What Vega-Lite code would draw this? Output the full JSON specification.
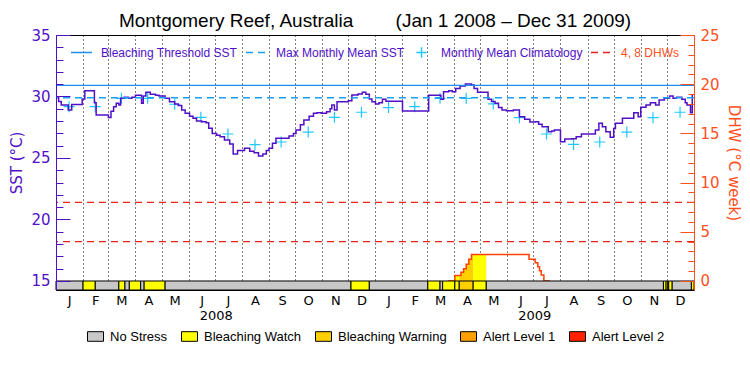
{
  "$schema": "https://vega.github.io/schema/vega-lite/v6.json",
  "width": 638,
  "height": 255,
  "autosize": {"type": "none"},
  "padding": {"left": 56, "top": 35, "right": 56, "bottom": 85},
  "background": "white",
  "title": {
    "text": "Montgomery Reef, Australia\u00a0\u00a0\u00a0\u00a0\u00a0\u00a0\u00a0\u00a0(Jan 1 2008 \u2013 Dec 31 2009)",
    "font": "Liberation Sans",
    "fontSize": 19,
    "fontWeight": "normal",
    "color": "black",
    "anchor": "middle",
    "offset": 2,
    "dy": 5
  },
  "config": {
    "view": {"stroke": "black", "strokeWidth": 1},
    "axis": {"grid": false, "labelFont": "DejaVu Sans", "titleFont": "DejaVu Sans", "titleFontWeight": "normal"},
    "legend": {"gridAlign": "none"}
  },
  "datasets": {
    "sst": [
      {"date": "2008-01-01", "sst": 29.95}, {"date": "2008-01-04", "sst": 29.6}, {"date": "2008-01-07", "sst": 29.3},
      {"date": "2008-01-15", "sst": 28.9}, {"date": "2008-01-19", "sst": 29.35}, {"date": "2008-01-31", "sst": 29.8},
      {"date": "2008-02-03", "sst": 30.47}, {"date": "2008-02-14", "sst": 29.5}, {"date": "2008-02-16", "sst": 28.5},
      {"date": "2008-03-01", "sst": 28.3}, {"date": "2008-03-04", "sst": 28.8}, {"date": "2008-03-07", "sst": 29.17},
      {"date": "2008-03-10", "sst": 29.45}, {"date": "2008-03-13", "sst": 29.31}, {"date": "2008-03-15", "sst": 29.85},
      {"date": "2008-03-19", "sst": 29.93}, {"date": "2008-03-24", "sst": 29.85}, {"date": "2008-03-28", "sst": 29.93},
      {"date": "2008-04-01", "sst": 30.1}, {"date": "2008-04-08", "sst": 29.45}, {"date": "2008-04-10", "sst": 30.04},
      {"date": "2008-04-13", "sst": 30.34}, {"date": "2008-04-18", "sst": 30.18}, {"date": "2008-04-24", "sst": 30.1},
      {"date": "2008-04-28", "sst": 30.04}, {"date": "2008-05-05", "sst": 29.85}, {"date": "2008-05-10", "sst": 29.58},
      {"date": "2008-05-16", "sst": 29.4}, {"date": "2008-05-20", "sst": 29.26}, {"date": "2008-05-24", "sst": 28.9},
      {"date": "2008-05-28", "sst": 28.63}, {"date": "2008-06-02", "sst": 28.4}, {"date": "2008-06-06", "sst": 28.23},
      {"date": "2008-06-10", "sst": 28.0}, {"date": "2008-06-16", "sst": 27.95}, {"date": "2008-06-21", "sst": 27.87},
      {"date": "2008-06-24", "sst": 27.41}, {"date": "2008-06-28", "sst": 27.0}, {"date": "2008-07-03", "sst": 26.85},
      {"date": "2008-07-07", "sst": 26.73}, {"date": "2008-07-12", "sst": 26.46}, {"date": "2008-07-18", "sst": 26.14},
      {"date": "2008-07-22", "sst": 25.33}, {"date": "2008-07-27", "sst": 25.6}, {"date": "2008-08-04", "sst": 25.79},
      {"date": "2008-08-10", "sst": 25.55}, {"date": "2008-08-15", "sst": 25.43}, {"date": "2008-08-20", "sst": 25.16},
      {"date": "2008-08-25", "sst": 25.33}, {"date": "2008-08-29", "sst": 25.6}, {"date": "2008-09-01", "sst": 25.79},
      {"date": "2008-09-05", "sst": 26.2}, {"date": "2008-09-09", "sst": 26.6}, {"date": "2008-09-24", "sst": 26.79},
      {"date": "2008-09-29", "sst": 27.0}, {"date": "2008-10-02", "sst": 27.28}, {"date": "2008-10-07", "sst": 27.7},
      {"date": "2008-10-11", "sst": 28.09}, {"date": "2008-10-17", "sst": 28.4}, {"date": "2008-10-22", "sst": 28.63},
      {"date": "2008-10-26", "sst": 28.68}, {"date": "2008-10-31", "sst": 28.63}, {"date": "2008-11-06", "sst": 28.77},
      {"date": "2008-11-10", "sst": 29.0}, {"date": "2008-11-12", "sst": 29.31}, {"date": "2008-11-15", "sst": 28.9},
      {"date": "2008-11-18", "sst": 29.58}, {"date": "2008-12-01", "sst": 29.66}, {"date": "2008-12-05", "sst": 30.12},
      {"date": "2008-12-12", "sst": 30.2}, {"date": "2008-12-17", "sst": 30.34}, {"date": "2008-12-21", "sst": 30.18},
      {"date": "2008-12-25", "sst": 29.8}, {"date": "2008-12-28", "sst": 29.58}, {"date": "2009-01-01", "sst": 29.39},
      {"date": "2009-01-05", "sst": 29.5}, {"date": "2009-01-09", "sst": 29.77}, {"date": "2009-01-13", "sst": 29.61},
      {"date": "2009-02-01", "sst": 28.82}, {"date": "2009-03-03", "sst": 30.1}, {"date": "2009-03-17", "sst": 29.77},
      {"date": "2009-03-20", "sst": 30.39}, {"date": "2009-03-26", "sst": 30.47}, {"date": "2009-03-30", "sst": 30.39},
      {"date": "2009-04-03", "sst": 30.66}, {"date": "2009-04-08", "sst": 30.85}, {"date": "2009-04-14", "sst": 31.02},
      {"date": "2009-04-21", "sst": 30.93}, {"date": "2009-04-24", "sst": 30.66}, {"date": "2009-04-28", "sst": 30.34},
      {"date": "2009-05-10", "sst": 29.77}, {"date": "2009-05-14", "sst": 29.6}, {"date": "2009-05-18", "sst": 29.45},
      {"date": "2009-05-22", "sst": 29.1}, {"date": "2009-05-26", "sst": 28.9}, {"date": "2009-05-31", "sst": 28.85},
      {"date": "2009-06-08", "sst": 28.9}, {"date": "2009-06-15", "sst": 28.36}, {"date": "2009-06-21", "sst": 28.15},
      {"date": "2009-06-27", "sst": 27.93}, {"date": "2009-07-03", "sst": 27.95}, {"date": "2009-07-07", "sst": 27.75},
      {"date": "2009-07-11", "sst": 27.55}, {"date": "2009-07-18", "sst": 27.14}, {"date": "2009-07-22", "sst": 27.2},
      {"date": "2009-07-25", "sst": 27.28}, {"date": "2009-08-01", "sst": 26.33}, {"date": "2009-08-06", "sst": 26.54},
      {"date": "2009-08-14", "sst": 26.57}, {"date": "2009-08-19", "sst": 26.73}, {"date": "2009-08-25", "sst": 26.95},
      {"date": "2009-09-10", "sst": 27.28}, {"date": "2009-09-14", "sst": 27.82}, {"date": "2009-09-18", "sst": 27.55},
      {"date": "2009-09-22", "sst": 27.14}, {"date": "2009-09-27", "sst": 26.68}, {"date": "2009-10-01", "sst": 27.4},
      {"date": "2009-10-03", "sst": 27.82}, {"date": "2009-10-11", "sst": 28.23}, {"date": "2009-10-24", "sst": 28.68},
      {"date": "2009-10-29", "sst": 28.36}, {"date": "2009-11-01", "sst": 29.12}, {"date": "2009-11-07", "sst": 29.31},
      {"date": "2009-11-12", "sst": 29.5}, {"date": "2009-11-18", "sst": 29.31}, {"date": "2009-11-22", "sst": 29.72},
      {"date": "2009-11-28", "sst": 29.85}, {"date": "2009-12-04", "sst": 30.04}, {"date": "2009-12-08", "sst": 29.85},
      {"date": "2009-12-12", "sst": 29.93}, {"date": "2009-12-18", "sst": 29.77}, {"date": "2009-12-22", "sst": 29.5},
      {"date": "2009-12-24", "sst": 29.31}, {"date": "2009-12-28", "sst": 28.68}, {"date": "2009-12-30", "sst": 30.12},
      {"date": "2009-12-31", "sst": 30.12}
    ],
    "clim": [
      {"date": "2008-01-16", "sst": 29.17, "series": "Monthly Mean Climatology"},
      {"date": "2008-02-15", "sst": 29.17, "series": "Monthly Mean Climatology"},
      {"date": "2008-03-16", "sst": 29.85, "series": "Monthly Mean Climatology"},
      {"date": "2008-04-15", "sst": 29.85, "series": "Monthly Mean Climatology"},
      {"date": "2008-05-16", "sst": 29.37, "series": "Monthly Mean Climatology"},
      {"date": "2008-06-15", "sst": 28.31, "series": "Monthly Mean Climatology"},
      {"date": "2008-07-16", "sst": 26.95, "series": "Monthly Mean Climatology"},
      {"date": "2008-08-16", "sst": 26.08, "series": "Monthly Mean Climatology"},
      {"date": "2008-09-15", "sst": 26.3, "series": "Monthly Mean Climatology"},
      {"date": "2008-10-16", "sst": 27.11, "series": "Monthly Mean Climatology"},
      {"date": "2008-11-15", "sst": 28.31, "series": "Monthly Mean Climatology"},
      {"date": "2008-12-16", "sst": 28.72, "series": "Monthly Mean Climatology"},
      {"date": "2009-01-16", "sst": 29.1, "series": "Monthly Mean Climatology"},
      {"date": "2009-02-15", "sst": 29.17, "series": "Monthly Mean Climatology"},
      {"date": "2009-03-16", "sst": 29.85, "series": "Monthly Mean Climatology"},
      {"date": "2009-04-15", "sst": 29.85, "series": "Monthly Mean Climatology"},
      {"date": "2009-05-16", "sst": 29.4, "series": "Monthly Mean Climatology"},
      {"date": "2009-06-15", "sst": 28.28, "series": "Monthly Mean Climatology"},
      {"date": "2009-07-16", "sst": 26.95, "series": "Monthly Mean Climatology"},
      {"date": "2009-08-16", "sst": 26.1, "series": "Monthly Mean Climatology"},
      {"date": "2009-09-15", "sst": 26.3, "series": "Monthly Mean Climatology"},
      {"date": "2009-10-16", "sst": 27.11, "series": "Monthly Mean Climatology"},
      {"date": "2009-11-15", "sst": 28.28, "series": "Monthly Mean Climatology"},
      {"date": "2009-12-16", "sst": 28.72, "series": "Monthly Mean Climatology"}
    ],
    "stress": [
      {"start": "2008-01-01", "end": "2008-02-01", "level": "No Stress"},
      {"start": "2008-02-01", "end": "2008-02-15", "level": "Bleaching Watch"},
      {"start": "2008-02-15", "end": "2008-03-13", "level": "No Stress"},
      {"start": "2008-03-13", "end": "2008-03-20", "level": "Bleaching Watch"},
      {"start": "2008-03-20", "end": "2008-03-25", "level": "No Stress"},
      {"start": "2008-03-25", "end": "2008-04-07", "level": "Bleaching Watch"},
      {"start": "2008-04-07", "end": "2008-04-11", "level": "No Stress"},
      {"start": "2008-04-11", "end": "2008-05-05", "level": "Bleaching Watch"},
      {"start": "2008-05-05", "end": "2008-12-04", "level": "No Stress"},
      {"start": "2008-12-04", "end": "2008-12-25", "level": "Bleaching Watch"},
      {"start": "2008-12-25", "end": "2009-03-02", "level": "No Stress"},
      {"start": "2009-03-02", "end": "2009-03-16", "level": "Bleaching Watch"},
      {"start": "2009-03-16", "end": "2009-03-19", "level": "No Stress"},
      {"start": "2009-03-19", "end": "2009-04-02", "level": "Bleaching Watch"},
      {"start": "2009-04-02", "end": "2009-04-07", "level": "Bleaching Watch"},
      {"start": "2009-04-07", "end": "2009-04-23", "level": "Bleaching Warning"},
      {"start": "2009-04-23", "end": "2009-05-08", "level": "Bleaching Watch"},
      {"start": "2009-05-08", "end": "2009-11-27", "level": "No Stress"},
      {"start": "2009-11-27", "end": "2009-11-30", "level": "Bleaching Watch"},
      {"start": "2009-11-30", "end": "2009-12-02", "level": "Bleaching Watch"},
      {"start": "2009-12-02", "end": "2009-12-03", "level": "No Stress"},
      {"start": "2009-12-03", "end": "2009-12-07", "level": "Bleaching Watch"},
      {"start": "2009-12-07", "end": "2009-12-29", "level": "No Stress"},
      {"start": "2009-12-29", "end": "2010-01-01", "level": "Bleaching Watch"}
    ],
    "dhw": [
      {"date": "2009-03-25", "dhw": 0}, {"date": "2009-04-02", "dhw": 0.55}, {"date": "2009-04-09", "dhw": 0.9},
      {"date": "2009-04-12", "dhw": 1.25}, {"date": "2009-04-15", "dhw": 1.7}, {"date": "2009-04-18", "dhw": 2.2},
      {"date": "2009-04-21", "dhw": 2.7}, {"date": "2009-06-26", "dhw": 2.2}, {"date": "2009-07-03", "dhw": 1.86},
      {"date": "2009-07-06", "dhw": 1.45}, {"date": "2009-07-08", "dhw": 1.05}, {"date": "2009-07-10", "dhw": 0.6},
      {"date": "2009-07-13", "dhw": 0}, {"date": "2009-07-20", "dhw": 0}
    ],
    "dhwfill": [
      {"date": "2009-04-02", "dhw": 0.55, "level": "Bleaching Watch", "seg": "a"},
      {"date": "2009-04-07", "dhw": 0.55, "level": "Bleaching Watch", "seg": "a"},
      {"date": "2009-04-07", "dhw": 0.55, "level": "Bleaching Warning", "seg": "b"},
      {"date": "2009-04-09", "dhw": 0.9, "level": "Bleaching Warning", "seg": "b"},
      {"date": "2009-04-12", "dhw": 1.25, "level": "Bleaching Warning", "seg": "b"},
      {"date": "2009-04-15", "dhw": 1.7, "level": "Bleaching Warning", "seg": "b"},
      {"date": "2009-04-18", "dhw": 2.2, "level": "Bleaching Warning", "seg": "b"},
      {"date": "2009-04-21", "dhw": 2.7, "level": "Bleaching Warning", "seg": "b"},
      {"date": "2009-04-23", "dhw": 2.7, "level": "Bleaching Warning", "seg": "b"},
      {"date": "2009-04-23", "dhw": 2.7, "level": "Bleaching Watch", "seg": "c"},
      {"date": "2009-05-08", "dhw": 2.7, "level": "Bleaching Watch", "seg": "c"}
    ],
    "sstref": [
      {"series": "Bleaching Threshold SST", "value": 30.9},
      {"series": "Max Monthly Mean SST", "value": 29.9}
    ],
    "dhwref": [
      {"series": "4, 8 DHWs", "value": 4},
      {"series": "4, 8 DHWs", "value": 8}
    ]
  },
  "layer": [
    {
      "layer": [
        {
          "data": {"name": "dhwfill"},
          "mark": {"type": "area", "interpolate": "step-after", "opacity": 1},
          "encoding": {
            "x": {"field": "date", "type": "temporal", "axis": null,
                  "scale": {"type": "utc", "domain": [{"year": 2008, "month": 1, "date": 1, "utc": true}, {"year": 2010, "month": 1, "date": 1, "utc": true}]}},
            "y": {"field": "dhw", "type": "quantitative",
                  "scale": {"domain": [-0.915, 25], "nice": false, "zero": false},
                  "axis": {"orient": "right", "values": [0, 5, 10, 15, 20, 25], "tickSize": -14, "tickColor": "#ff4f1f",
                           "domainColor": "#ff4f1f", "labelColor": "#ff4f1f", "labelFontSize": 15, "labelPadding": 20,
                           "labelFlush": false, "labelBound": false, "title": "DHW (°C week)", "titleColor": "#ff4f1f",
                           "titleFontSize": 15, "titlePadding": 6, "zindex": 1}},
            "y2": {"datum": 0},
            "fill": {"field": "level", "type": "nominal",
                     "scale": {"domain": ["No Stress", "Bleaching Watch", "Bleaching Warning", "Alert Level 1", "Alert Level 2"],
                               "range": ["#c8c8c8", "#ffff00", "#ffd000", "#ffa000", "#ff2200"]},
                     "legend": {"orient": "none", "legendX": 31, "legendY": 293, "direction": "horizontal", "title": null,
                                "symbolType": "M-1,-0.6H1V0.6H-1Z", "symbolSize": 256, "symbolStrokeColor": "black",
                                "symbolStrokeWidth": 1, "symbolOpacity": 1, "labelFont": "Liberation Sans", "labelFontSize": 13,
                                "labelColor": "black", "labelOffset": 6, "columnPadding": 11, "labelLimit": 200, "gridAlign": "none"}},
            "detail": {"field": "seg"}
          }
        },
        {
          "data": {"name": "dhw"},
          "mark": {"type": "line", "interpolate": "step-after", "color": "#ff4000", "strokeWidth": 1.5},
          "encoding": {
            "x": {"field": "date", "type": "temporal", "axis": null,
                  "scale": {"type": "utc", "domain": [{"year": 2008, "month": 1, "date": 1, "utc": true}, {"year": 2010, "month": 1, "date": 1, "utc": true}]}},
            "y": {"field": "dhw", "type": "quantitative",
                  "scale": {"domain": [-0.915, 25], "nice": false, "zero": false},
                  "axis": {"orient": "right", "values": [0,1,2,3,4,5,6,7,8,9,10,11,12,13,14,15,16,17,18,19,20,21,22,23,24,25],
                           "tickSize": -6, "tickColor": "#ff4f1f", "labels": false, "domain": false, "title": null, "zindex": 1}}
          }
        },
        {
          "data": {"name": "dhwref"},
          "mark": {"type": "rule", "strokeDash": [7, 5], "strokeWidth": 1.3},
          "encoding": {
            "y": {"field": "value", "type": "quantitative", "axis": null,
                  "scale": {"domain": [-0.915, 25], "nice": false, "zero": false}},
            "stroke": {"field": "series", "type": "nominal",
                       "scale": {"domain": ["Bleaching Threshold SST", "Max Monthly Mean SST", "Monthly Mean Climatology", "4, 8 DHWs"],
                                 "range": ["#1e8ff0", "#18a0f5", "#1ec8ff", "#e8241c"]},
                       "legend": {"orient": "none", "legendX": 14, "legendY": 6, "direction": "horizontal", "title": null,
                                  "symbolType": "stroke", "symbolSize": 441, "symbolStrokeWidth": 1.5, "gridAlign": "none",
                                  "labelFont": "Liberation Sans", "labelFontSize": 12, "labelOffset": 8, "columnPadding": 5, "labelLimit": 300,
                                  "encode": {
                                    "symbols": {"update": {
                                      "shape": {"signal": "datum.value === 'Monthly Mean Climatology' ? 'M-0.5,0H0.5M0,-0.5V0.5' : 'stroke'"},
                                      "strokeDash": {"signal": "(datum.value === 'Max Monthly Mean SST' || datum.value === '4, 8 DHWs') ? [7, 5] : [1, 0]"}
                                    }},
                                    "labels": {"update": {
                                      "fill": {"signal": "datum.value === '4, 8 DHWs' ? '#ff4f1f' : '#5010c8'"}
                                    }}
                                  }}}
          }
        }
      ],
      "resolve": {"axis": {"y": "independent"}}
    },
    {
      "layer": [
        {
          "data": {"name": "stress"},
          "mark": {"type": "rect", "stroke": "black", "strokeWidth": 1},
          "encoding": {
            "x": {"field": "start", "type": "temporal",
                  "scale": {"type": "utc", "domain": [{"year": 2008, "month": 1, "date": 1, "utc": true}, {"year": 2010, "month": 1, "date": 1, "utc": true}]},
                  "axis": {"orient": "bottom", "grid": true, "gridColor": "black", "gridDash": [1, 3], "gridWidth": 1, "ticks": false, "labels": false,
                           "domain": false, "title": null,
                           "values": [
                             {"year": 2008, "month": 2, "date": 1, "utc": true}, {"year": 2008, "month": 3, "date": 1, "utc": true},
                             {"year": 2008, "month": 4, "date": 1, "utc": true}, {"year": 2008, "month": 5, "date": 1, "utc": true},
                             {"year": 2008, "month": 6, "date": 1, "utc": true}, {"year": 2008, "month": 7, "date": 1, "utc": true},
                             {"year": 2008, "month": 8, "date": 1, "utc": true}, {"year": 2008, "month": 9, "date": 1, "utc": true},
                             {"year": 2008, "month": 10, "date": 1, "utc": true}, {"year": 2008, "month": 11, "date": 1, "utc": true},
                             {"year": 2008, "month": 12, "date": 1, "utc": true}, {"year": 2009, "month": 1, "date": 1, "utc": true},
                             {"year": 2009, "month": 2, "date": 1, "utc": true}, {"year": 2009, "month": 3, "date": 1, "utc": true},
                             {"year": 2009, "month": 4, "date": 1, "utc": true}, {"year": 2009, "month": 5, "date": 1, "utc": true},
                             {"year": 2009, "month": 6, "date": 1, "utc": true}, {"year": 2009, "month": 7, "date": 1, "utc": true},
                             {"year": 2009, "month": 8, "date": 1, "utc": true}, {"year": 2009, "month": 9, "date": 1, "utc": true},
                             {"year": 2009, "month": 10, "date": 1, "utc": true}, {"year": 2009, "month": 11, "date": 1, "utc": true},
                             {"year": 2009, "month": 12, "date": 1, "utc": true}
                           ]}},
            "x2": {"field": "end"},
            "y": {"datum": 15, "type": "quantitative",
                  "scale": {"domain": [14.268, 35], "nice": false, "zero": false},
                  "axis": {"orient": "left", "values": [15, 20, 25, 30, 35], "tickSize": -14, "tickColor": "#5010c8",
                           "domainColor": "#5010c8", "labelColor": "#5010c8", "labelFontSize": 15, "labelPadding": 20,
                           "labelFlush": false, "labelBound": false, "title": "SST (°C)", "titleColor": "#5010c8",
                           "titleFontSize": 15, "titlePadding": 6, "zindex": 1}},
            "y2": {"datum": 14.268},
            "fill": {"field": "level", "type": "nominal",
                     "scale": {"domain": ["No Stress", "Bleaching Watch", "Bleaching Warning", "Alert Level 1", "Alert Level 2"],
                               "range": ["#c8c8c8", "#ffff00", "#ffd000", "#ffa000", "#ff2200"]},
                     "legend": {"orient": "none", "legendX": 31, "legendY": 293, "direction": "horizontal", "title": null,
                                "symbolType": "M-1,-0.6H1V0.6H-1Z", "symbolSize": 256, "symbolStrokeColor": "black",
                                "symbolStrokeWidth": 1, "symbolOpacity": 1, "labelFont": "Liberation Sans", "labelFontSize": 13,
                                "labelColor": "black", "labelOffset": 6, "columnPadding": 11, "labelLimit": 200, "gridAlign": "none"}}
          }
        },
        {
          "data": {"name": "clim"},
          "mark": {"type": "point", "shape": "M-1,0H1M0,-1V1", "size": 121, "filled": false, "strokeWidth": 1.2, "opacity": 1},
          "encoding": {
            "x": {"field": "date", "type": "temporal",
                  "scale": {"type": "utc", "domain": [{"year": 2008, "month": 1, "date": 1, "utc": true}, {"year": 2010, "month": 1, "date": 1, "utc": true}]},
                  "axis": {"orient": "bottom", "ticks": false, "domain": false, "title": null, "labelPadding": 4, "labelFontSize": 13, "labelColor": "black",
                           "labelFlush": false, "labelOverlap": false, "labelBound": false,
                           "labelExpr": "substring(utcFormat(datum.value, '%b'), 0, 1)",
                           "values": [
                             {"year": 2008, "month": 1, "date": 16, "utc": true}, {"year": 2008, "month": 2, "date": 15, "utc": true},
                             {"year": 2008, "month": 3, "date": 16, "utc": true}, {"year": 2008, "month": 4, "date": 16, "utc": true},
                             {"year": 2008, "month": 5, "date": 16, "utc": true}, {"year": 2008, "month": 6, "date": 16, "utc": true},
                             {"year": 2008, "month": 7, "date": 16, "utc": true}, {"year": 2008, "month": 8, "date": 16, "utc": true},
                             {"year": 2008, "month": 9, "date": 16, "utc": true}, {"year": 2008, "month": 10, "date": 16, "utc": true},
                             {"year": 2008, "month": 11, "date": 16, "utc": true}, {"year": 2008, "month": 12, "date": 16, "utc": true},
                             {"year": 2009, "month": 1, "date": 16, "utc": true}, {"year": 2009, "month": 2, "date": 15, "utc": true},
                             {"year": 2009, "month": 3, "date": 16, "utc": true}, {"year": 2009, "month": 4, "date": 16, "utc": true},
                             {"year": 2009, "month": 5, "date": 16, "utc": true}, {"year": 2009, "month": 6, "date": 16, "utc": true},
                             {"year": 2009, "month": 7, "date": 16, "utc": true}, {"year": 2009, "month": 8, "date": 16, "utc": true},
                             {"year": 2009, "month": 9, "date": 16, "utc": true}, {"year": 2009, "month": 10, "date": 16, "utc": true},
                             {"year": 2009, "month": 11, "date": 16, "utc": true}, {"year": 2009, "month": 12, "date": 16, "utc": true}
                           ]}},
            "y": {"field": "sst", "type": "quantitative",
                  "scale": {"domain": [14.268, 35], "nice": false, "zero": false},
                  "axis": {"orient": "left", "values": [15,16,17,18,19,20,21,22,23,24,25,26,27,28,29,30,31,32,33,34,35],
                           "tickSize": -7, "tickColor": "#5010c8", "labels": false, "domain": false, "title": null, "zindex": 1}},
            "stroke": {"field": "series", "type": "nominal",
                       "scale": {"domain": ["Bleaching Threshold SST", "Max Monthly Mean SST", "Monthly Mean Climatology", "4, 8 DHWs"],
                                 "range": ["#1e8ff0", "#18a0f5", "#1ec8ff", "#e8241c"]},
                       "legend": {"orient": "none", "legendX": 14, "legendY": 6, "direction": "horizontal", "title": null,
                                  "symbolType": "stroke", "symbolSize": 441, "symbolStrokeWidth": 1.5, "gridAlign": "none",
                                  "labelFont": "Liberation Sans", "labelFontSize": 12, "labelOffset": 8, "columnPadding": 5, "labelLimit": 300,
                                  "encode": {
                                    "symbols": {"update": {
                                      "shape": {"signal": "datum.value === 'Monthly Mean Climatology' ? 'M-0.5,0H0.5M0,-0.5V0.5' : 'stroke'"},
                                      "strokeDash": {"signal": "(datum.value === 'Max Monthly Mean SST' || datum.value === '4, 8 DHWs') ? [7, 5] : [1, 0]"}
                                    }},
                                    "labels": {"update": {
                                      "fill": {"signal": "datum.value === '4, 8 DHWs' ? '#ff4f1f' : '#5010c8'"}
                                    }}
                                  }}}
          }
        },
        {
          "data": {"name": "sst"},
          "mark": {"type": "line", "interpolate": "step-after", "color": "#5010c8", "strokeWidth": 1.5},
          "encoding": {
            "x": {"field": "date", "type": "temporal",
                  "scale": {"type": "utc", "domain": [{"year": 2008, "month": 1, "date": 1, "utc": true}, {"year": 2010, "month": 1, "date": 1, "utc": true}]},
                  "axis": {"orient": "bottom", "ticks": false, "domain": false, "title": null, "labelPadding": 19, "labelFontSize": 13, "labelColor": "black",
                           "labelFlush": false, "labelOverlap": false, "labelBound": false,
                           "labelExpr": "utcFormat(datum.value, '%Y')",
                           "values": [{"year": 2008, "month": 7, "date": 2, "utc": true}, {"year": 2009, "month": 7, "date": 2, "utc": true}]}},
            "y": {"field": "sst", "type": "quantitative", "axis": null,
                  "scale": {"domain": [14.268, 35], "nice": false, "zero": false}}
          }
        },
        {
          "data": {"name": "sstref"},
          "transform": [{"filter": "datum.series === 'Bleaching Threshold SST'"}],
          "mark": {"type": "rule", "strokeWidth": 1.3},
          "encoding": {
            "y": {"field": "value", "type": "quantitative", "axis": null,
                  "scale": {"domain": [14.268, 35], "nice": false, "zero": false}},
            "stroke": {"field": "series", "type": "nominal",
                       "scale": {"domain": ["Bleaching Threshold SST", "Max Monthly Mean SST", "Monthly Mean Climatology", "4, 8 DHWs"],
                                 "range": ["#1e8ff0", "#18a0f5", "#1ec8ff", "#e8241c"]}}
          }
        },
        {
          "data": {"name": "sstref"},
          "transform": [{"filter": "datum.series === 'Max Monthly Mean SST'"}],
          "mark": {"type": "rule", "strokeWidth": 1.3, "strokeDash": [7, 5]},
          "encoding": {
            "y": {"field": "value", "type": "quantitative", "axis": null,
                  "scale": {"domain": [14.268, 35], "nice": false, "zero": false}},
            "stroke": {"field": "series", "type": "nominal",
                       "scale": {"domain": ["Bleaching Threshold SST", "Max Monthly Mean SST", "Monthly Mean Climatology", "4, 8 DHWs"],
                                 "range": ["#1e8ff0", "#18a0f5", "#1ec8ff", "#e8241c"]}}
          }
        }
      ],
      "resolve": {"axis": {"x": "independent", "y": "independent"}}
    }
  ],
  "resolve": {"scale": {"y": "independent"}, "axis": {"x": "independent", "y": "independent"}}
}
